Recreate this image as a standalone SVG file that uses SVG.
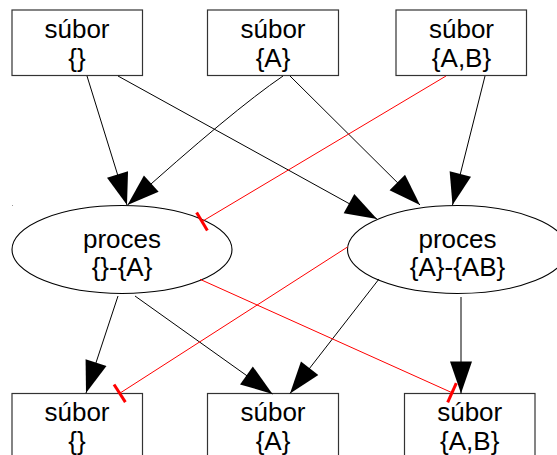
<svg xmlns="http://www.w3.org/2000/svg" width="557" height="455" viewBox="0 0 557 455">
  <style>
    .box { fill: #fff; stroke: #333; stroke-width: 1.2; }
    .ell { fill: #fff; stroke: #000; stroke-width: 1.1; }
    .lbl { font-family: "Liberation Sans", Arial, sans-serif; font-size: 26px; fill: #000; text-anchor: middle; }
    .e { fill: none; stroke: #000; stroke-width: 1; marker-end: url(#arrow); }
    .inh { fill: none; stroke: #f00; stroke-width: 1; marker-end: url(#tee); }
  </style>
  <defs>
    <marker id="arrow" markerUnits="userSpaceOnUse" markerWidth="34" markerHeight="24" viewBox="0 -12 33 24" refX="32" refY="0" orient="auto">
      <path d="M0,-11 L32,0 L0,11 Z" fill="#000"/>
    </marker>
    <marker id="tee" markerUnits="userSpaceOnUse" markerWidth="6" markerHeight="24" viewBox="-3 -12 6 24" refX="0" refY="0" orient="auto">
      <path d="M0,-10.5 V10.5" stroke="#f00" stroke-width="3"/>
    </marker>
  </defs>

  <rect x="12" y="205" width="1" height="1" fill="#999"/>

  <!-- top row -->
  <g id="file_empty_in">
    <rect class="box" x="12" y="10" width="130.5" height="65.5"/>
    <text class="lbl" x="77" y="38">súbor</text>
    <text class="lbl" x="77" y="67">{}</text>
  </g>
  <g id="file_A_in">
    <rect class="box" x="207.5" y="10" width="131" height="65.5"/>
    <text class="lbl" x="273" y="38">súbor</text>
    <text class="lbl" x="273" y="67">{A}</text>
  </g>
  <g id="file_AB_in">
    <rect class="box" x="396" y="10" width="130.5" height="65.5"/>
    <text class="lbl" x="461.5" y="38">súbor</text>
    <text class="lbl" x="461.5" y="67">{A,B}</text>
  </g>

  <!-- processes -->
  <g id="proc_1">
    <ellipse class="ell" cx="122" cy="249.5" rx="110" ry="44"/>
    <text class="lbl" x="122" y="248">proces</text>
    <text class="lbl" x="122" y="276">{}-{A}</text>
  </g>
  <g id="proc_2">
    <ellipse class="ell" cx="457.5" cy="249.5" rx="110" ry="44"/>
    <text class="lbl" x="457.5" y="248">proces</text>
    <text class="lbl" x="457.5" y="276">{A}-{AB}</text>
  </g>

  <!-- bottom row -->
  <g id="file_empty_out">
    <rect class="box" x="12" y="393.5" width="130.5" height="65.5"/>
    <text class="lbl" x="77" y="421">súbor</text>
    <text class="lbl" x="77" y="450">{}</text>
  </g>
  <g id="file_A_out">
    <rect class="box" x="207.5" y="393.5" width="131" height="65.5"/>
    <text class="lbl" x="273" y="421">súbor</text>
    <text class="lbl" x="273" y="450">{A}</text>
  </g>
  <g id="file_AB_out">
    <rect class="box" x="404.5" y="393.5" width="130.5" height="65.5"/>
    <text class="lbl" x="469.7" y="421">súbor</text>
    <text class="lbl" x="469.7" y="450">{A,B}</text>
  </g>

  <!-- connectors, drawn over the shapes so the tee bars stay visible -->
  <g id="edges">
    <path class="e" d="M87,76 L127,205"/>
    <path class="e" d="M118,76 L377,219"/>
    <path class="e" d="M283,76 Q233,110 127.5,205"/>
    <path class="e" d="M290,76 L420,205"/>
    <path class="e" d="M485,76 L452.5,205"/>
    <path class="e" d="M118,296 L86,393"/>
    <path class="e" d="M135,296 L272.5,394"/>
    <path class="e" d="M379,279 L290,393.5"/>
    <path class="e" d="M461,297 L461,393.5"/>
    <path class="inh" d="M446,76 L202,221.5"/>
    <path class="inh" d="M347.5,247 L119.7,393.3"/>
    <path class="inh" d="M200,279.3 L452,392.7"/>
  </g>
</svg>
